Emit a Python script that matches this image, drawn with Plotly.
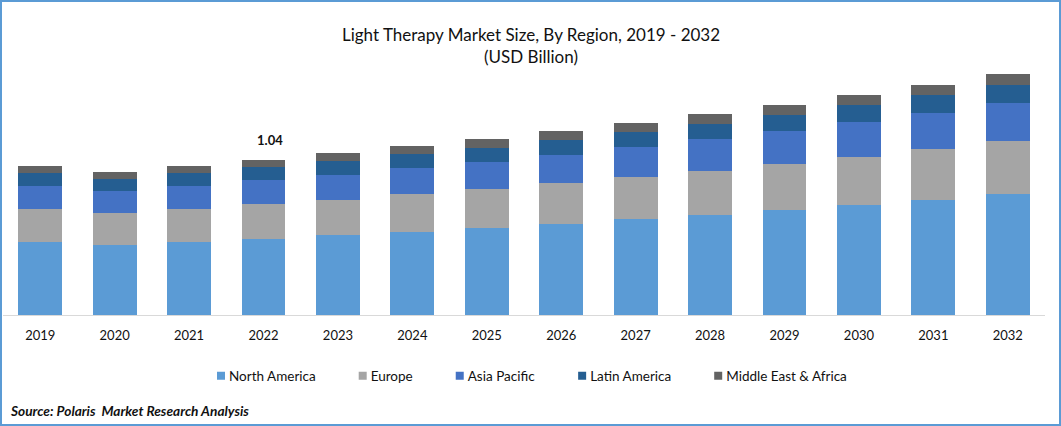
import plotly.graph_objects as go

W, H = 1061, 426
years = [str(y) for y in range(2019, 2033)]
north_america = [0.490, 0.470, 0.490, 0.510, 0.537, 0.557, 0.584, 0.611, 0.644, 0.671, 0.704, 0.738, 0.771, 0.811]
europe = [0.221, 0.215, 0.221, 0.235, 0.235, 0.255, 0.262, 0.275, 0.282, 0.295, 0.309, 0.322, 0.342, 0.356]
asia_pacific = [0.154, 0.148, 0.154, 0.161, 0.168, 0.174, 0.181, 0.188, 0.201, 0.215, 0.221, 0.235, 0.242, 0.255]
latin_america = [0.087, 0.081, 0.087, 0.087, 0.094, 0.094, 0.094, 0.101, 0.101, 0.101, 0.107, 0.114, 0.121, 0.121]
middle_east_africa = [0.047, 0.047, 0.047, 0.047, 0.054, 0.054, 0.060, 0.060, 0.060, 0.067, 0.067, 0.067, 0.067, 0.074]
series = [
    ("North America", north_america, "#5B9BD5"),
    ("Europe", europe, "#A5A5A5"),
    ("Asia Pacific", asia_pacific, "#4472C4"),
    ("Latin America", latin_america, "#255E91"),
    ("Middle East & Africa", middle_east_africa, "#636363"),
]
FONT = "Lato"
L, R, T, B = 3, 16, 35, H - 315
PW, PH = W - L - R, H - T - B
fig = go.Figure()
for name, vals, col in series:
    fig.add_bar(x=years, y=vals, name=name, marker=dict(color=col, line_width=0), width=0.59)

totals = [sum(v) for v in zip(*[s[1] for s in series])]
ymax = PH * 1.04 / 155

fig.update_layout(
    barmode="stack",
    width=W, height=H,
    margin=dict(l=L, r=R, t=T, b=B, autoexpand=False),
    paper_bgcolor="white", plot_bgcolor="white",
    font=dict(family=FONT, size=13, color="#111111"),
    xaxis=dict(type="category", range=[-0.5, 13.5], showline=True, linecolor="#D9D9D9", linewidth=1, ticks="",
               tickfont=dict(size=13), ticklabelstandoff=8),
    yaxis=dict(range=[0, ymax], visible=False),
    showlegend=True,
    legend=dict(orientation="h", x=(217 - L) / PW, xanchor="left", y=-(376 - 315) / PH, yanchor="middle",
                font=dict(size=13.5), itemwidth=40, traceorder="normal"),
    title=dict(text="Light Therapy Market Size, By Region, 2019 - 2032<br>(USD Billion)",
               x=531 / W, xanchor="center", y=1 - 41 / H, yanchor="middle",
               font=dict(size=17, family=FONT, color="#111111")),
    annotations=[
        dict(x=years.index("2022"), y=totals[3], text="<b>1.04</b>", showarrow=False, yshift=20, xshift=6,
             yanchor="middle", font=dict(size=13, family=FONT)),
        dict(xref="paper", yref="paper", x=(8 - L) / PW, y=-(410 - 315) / PH, xanchor="left", yanchor="middle",
             text="<b><i>Source: Polaris  Market Research Analysis</i></b>", showarrow=False,
             font=dict(size=13.7, family=FONT, color="#111111")),
    ],
    shapes=[
        dict(type="rect", xref="paper", yref="paper", x0=(1 - L) / PW, x1=(W - 1 - L) / PW,
             y0=(315 - (H - 1)) / PH, y1=(315 - 1) / PH, line=dict(color="#5B9BD5", width=2),
             fillcolor="rgba(0,0,0,0)", layer="below"),
    ],
)
# Smaller legend swatches sitting close to their labels, as in the reference.
post = """
document.body.style.margin='0';
document.querySelectorAll('.legend .traces').forEach(function(t){
  var p=t.querySelector('.legendpoints path');
  if(p){p.setAttribute('d','M4,4H-4V-4H4Z');p.setAttribute('transform','translate(4,0)');}
  var x=t.querySelector('.legendtext');
  if(x){x.setAttribute('x','12');}
});
"""
fig.write_html("out.html", config={"displayModeBar": False}, post_script=post)
